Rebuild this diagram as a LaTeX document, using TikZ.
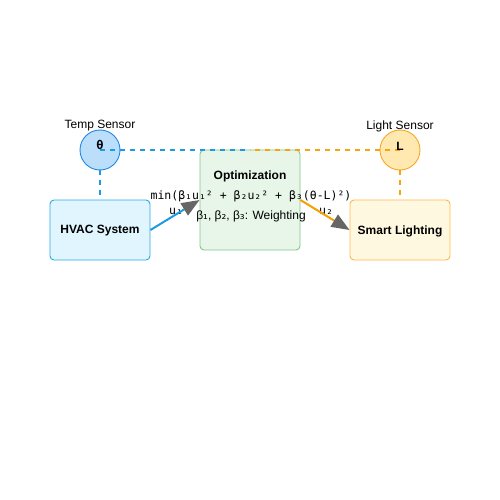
\documentclass[tikz,border=0pt]{standalone}
\usepackage{fontspec}
\setmainfont{Liberation Sans}
\newfontfamily\monof{DejaVu Sans Mono}
\newfontfamily\dvs{DejaVu Sans}
\usetikzlibrary{arrows.meta}
\definecolor{bluestroke}{HTML}{29A9E6}
\definecolor{bluefill}{HTML}{E1F5FE}
\definecolor{sensorblue}{HTML}{BBDEFB}
\definecolor{sensorbluestroke}{HTML}{1E88E5}
\definecolor{greenfill}{HTML}{E8F5E9}
\definecolor{greenstroke}{HTML}{81C784}
\definecolor{orangefill}{HTML}{FFF8E1}
\definecolor{orangestroke}{HTML}{FFB74D}
\definecolor{sensororange}{HTML}{FFE9B0}
\definecolor{sensororangestroke}{HTML}{F5A623}
\definecolor{linkblue}{HTML}{1E9BE0}
\definecolor{linkorange}{HTML}{F5A000}
\definecolor{tipgray}{HTML}{666666}
\tikzset{
  boxnode/.style={draw, rounded corners=4pt, minimum width=100pt, minimum height=60pt, line width=0.9pt, inner sep=0pt},
  boxtext/.style={font=\fontsize{12}{14}\selectfont\bfseries, inner sep=0pt},
  sensornode/.style={draw, circle, minimum size=40pt, inner sep=0pt, line width=0.9pt},
  lbl/.style={font=\fontsize{12}{14}\selectfont, inner sep=0pt},
  monolbl/.style={font=\fontsize{11.5}{13}\monof, inner sep=0pt},
  dashlink/.style={dashed, dash pattern=on 5pt off 5pt, line width=1.5pt},
  flow/.style={line width=2pt, -{Triangle[length=18pt,width=14pt,fill=tipgray,color=tipgray]}},
}
\begin{document}
\begin{tikzpicture}[x=1pt,y=-1pt]
\useasboundingbox (0,0) rectangle (500,500);
\node[boxnode, fill=bluefill, draw=bluestroke] (hvac) at (100,230) {};
\node[boxnode, fill=greenfill, draw=greenstroke, minimum height=100pt] (opt) at (250,200) {};
\node[boxnode, fill=orangefill, draw=orangestroke] (light) at (400,230) {};
\node[sensornode, fill=sensorblue, draw=sensorbluestroke] (temp) at (100,150) {};
\node[sensornode, fill=sensororange, draw=sensororangestroke] (lsens) at (400,150) {};
\coordinate (mid) at (250,150);
\draw[dashlink, draw=linkblue] (temp.center) -- (mid);
\draw[dashlink, draw=linkorange!80!orangestroke] (lsens.center) -- (mid);
\draw[dashlink, draw=linkblue] (temp.south) -- (hvac.north);
\draw[dashlink, draw=linkorange!80!orangestroke] (lsens.south) -- (light.north);
\node[boxtext] (hvactext) at (100,231) {HVAC System};
\node[boxtext] (lighttext) at (400,231) {Smart Lighting};
\node[font=\fontsize{12}{14}\monof\bfseries, inner sep=0pt] (theta) at (100,145) {θ};
\node[font=\fontsize{12}{14}\selectfont\bfseries, inner sep=0pt] (ltext) at (400,146) {L};
\node[lbl] (templbl) at (100,126) {Temp Sensor};
\node[lbl] (lightlbl) at (400,126) {Light Sensor};
\node[boxtext] (opttitle) at (250,176) {Optimization};
\node[monolbl] (formula) at (251,196) {min(β₁u₁² + β₂u₂² + β₃(θ-L)²)};
\node[lbl] (weights) at (251,216) {β{\dvs ₁}, β{\dvs ₂}, β{\dvs ₃}: Weighting};
\node[monolbl] (u1) at (176,211) {u₁};
\node[monolbl] (u2) at (326,211) {u₂};
\draw[flow, draw=linkblue] (hvac.east) -- (opt.west |- 0,200);
\draw[flow, draw=linkorange] (opt.east |- 0,200) -- (light.west);
\end{tikzpicture}
\end{document}
